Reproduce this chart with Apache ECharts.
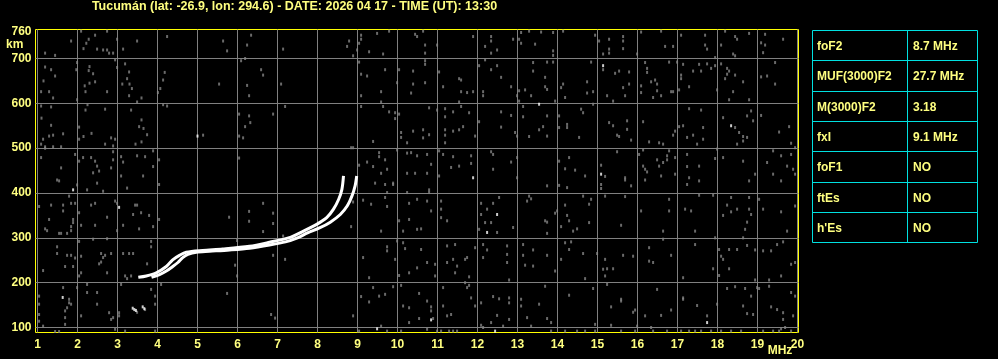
<!DOCTYPE html>
<html><head><meta charset="utf-8">
<script src="https://cdn.jsdelivr.net/npm/echarts@6/dist/echarts.min.js"></script>
<style>html,body{margin:0;padding:0;background:#000;}#c{width:998px;height:359px;}</style>
</head><body><div id="c"></div>
<script>
const titleText = 'Tucumán (lat: -26.9, lon: 294.6) - DATE: 2026 04 17 - TIME (UT): 13:30';
const freqTicks = [1,2,3,4,5,6,7,8,9,10,11,12,13,14,15,16,17,18,19,20];
const heightTicks = [100,200,300,400,500,600,700];
const heightLabels = [100,200,300,400,500,600,700,760];
const xUnit = 'MHz';
const yUnit = 'km';

// Ordinary (O) and extraordinary (X) F-layer traces: [MHz, km]
const traceO = [[3.52,212],[3.72,215],[3.97,222],[4.22,236],[4.38,251],[4.55,261],[4.72,268],[5.13,272],[5.63,275],[6.3,281],[6.8,290],[7.32,301],[7.65,315],[7.98,330],[8.23,345],[8.4,364],[8.53,386],[8.61,408],[8.65,438]];
const traceX = [[3.85,212],[4.05,218],[4.22,226],[4.38,236],[4.51,245],[4.63,256],[4.76,263],[4.97,268],[5.3,270],[5.8,273],[6.3,277],[6.8,284],[7.2,291],[7.5,300],[7.75,311],[8.05,322],[8.32,335],[8.57,352],[8.75,372],[8.86,393],[8.94,416],[8.98,438]];

// Strong isolated echoes (white)
const echoWhite = [[5.0,527],[3.04,368],[1.89,407],[1.63,167],[3.38,143],[3.42,140],[3.46,138],[3.63,146],[3.67,142],[13.54,598],[11.89,434],[12.24,312],[12.49,352],[10.84,117],[9.49,97],[12.44,92],[15.14,684],[15.09,442],[18.34,550],[17.74,111]];

// Weak background echoes (grey)
const noiseGray = [
[2.09,761],[2.74,761],[2.44,752],[1.84,739],[2.28,743],[2.22,734],[2.15,722],[2.49,721],[2.64,719],[2.74,719],[2.79,712],[2.89,712],[3.14,721],[3.49,739],[4.24,749],[1.19,712],[1.44,707],[5.64,739],[5.74,717],[6.24,730],[6.34,752],[7.14,721],[2.99,743],
[1.99,691],[2.94,697],[3.19,688],[6.09,695],[6.19,700],[1.19,681],[1.34,675],[2.30,682],[2.28,673],[2.39,666],[1.97,675],[2.99,680],[3.29,670],[1.44,661],[1.15,650],[3.24,655],[3.12,643],[3.30,643],[4.18,669],[4.14,652],[2.18,639],[2.30,645],[2.44,648],[3.36,633],[4.07,633],[4.01,624],[1.09,626],[1.29,626],[2.74,626],[2.20,626],[1.39,612],[1.99,608],[6.64,663],[6.59,675],[7.09,643],[5.54,643],[6.24,640],[6.29,617],[3.29,617],[3.60,612],[3.49,603],[4.24,594],[4.14,597],
[1.09,594],[1.34,592],[2.20,585],[2.69,587],[3.34,585],[2.25,597],[6.04,576],[6.29,572],[6.89,576],[7.19,593],[1.10,567],[2.04,547],[1.34,551],[3.60,563],[3.54,548],[3.65,544],[6.32,557],[6.19,548],[1.39,529],[1.29,527],[1.64,532],[2.35,533],[2.15,526],[1.14,520],[1.09,509],[1.19,503],[1.39,503],[1.59,503],[2.04,520],[2.94,520],[2.84,523],[2.69,509],[2.89,505],[3.45,509],[3.60,514],[3.74,530],[6.04,527],[6.14,523],[5.14,529],
[1.09,479],[1.19,500],[1.94,486],[2.04,471],[2.14,479],[2.34,479],[2.44,471],[2.49,460],[2.54,449],[2.39,445],[2.89,492],[2.89,474],[3.09,481],[3.14,469],[3.49,483],[3.69,481],[3.89,494],[4.04,474],[1.59,456],[1.49,429],[1.54,427],[1.99,418],[2.24,407],[2.49,422],[2.64,404],[2.84,456],[3.64,438],[3.24,411],[4.04,419],[6.04,478],[3.09,438],[3.89,459],
[1.04,370],[1.34,373],[1.64,373],[1.64,360],[1.79,393],[1.84,377],[1.94,377],[1.89,341],[1.89,334],[1.84,325],[1.84,316],[2.04,356],[2.34,373],[2.44,377],[2.94,382],[2.99,377],[3.14,328],[2.99,316],[3.44,373],[3.49,373],[3.39,352],[3.59,356],[3.79,350],[3.89,325],[4.04,341],[3.54,320],[1.19,320],[1.24,316],[1.29,341],[1.54,310],[1.59,310],[1.74,310],[2.09,328],[2.44,328],[2.74,346],[5.79,346],[6.29,359],[6.29,337],[6.64,377],[6.64,314],[6.89,355],[6.89,332],[7.14,304],
[2.04,292],[2.39,297],[2.74,298],[3.84,292],[3.84,280],[1.49,280],[1.49,265],[1.74,261],[1.84,261],[1.94,255],[2.09,259],[2.59,265],[2.64,256],[2.59,246],[2.69,261],[2.84,265],[3.14,265],[3.29,265],[3.39,265],[1.14,227],[1.69,236],[1.89,236],[2.04,215],[2.09,222],[2.74,222],[2.54,242],[3.19,215],[3.24,209],[3.34,215],[3.74,242],[5.94,239],[5.99,215],[5.99,294],[7.19,252],[6.89,261],
[1.04,170],[1.04,152],[1.04,129],[1.04,114],[1.64,189],[1.69,137],[1.69,122],[1.69,107],[1.79,163],[1.79,155],[1.74,144],[1.84,152],[1.99,189],[2.09,126],[2.24,196],[2.24,178],[2.49,178],[2.49,152],[2.79,133],[2.84,118],[2.89,122],[3.04,133],[3.04,126],[3.09,196],[3.84,185],[3.94,170],[3.94,152],[4.09,196],[3.69,140],[3.49,134],[5.74,176],[6.84,129],[6.94,121],[1.14,103],[1.44,91],[1.54,91],[2.94,96],[3.19,92],[3.94,92],
[9.79,761],[9.49,756],[10.44,754],[10.49,749],[10.64,761],[11.89,749],[12.34,749],[12.34,739],[12.89,743],[13.04,743],[13.09,758],[13.29,761],[13.59,759],[9.09,752],[9.04,734],[9.09,743],[8.99,719],[8.89,706],[8.74,727],[10.69,712],[10.69,730],[10.99,730],[12.19,727],[12.34,712],[12.49,719],[13.09,734],[13.44,732],[9.64,710],[9.29,715],[8.79,739],
[9.04,692],[10.69,695],[10.69,687],[12.04,684],[12.19,697],[12.34,675],[12.49,684],[13.39,691],[13.39,672],[13.69,658],[9.09,665],[9.24,661],[9.69,675],[10.04,675],[10.39,672],[11.04,670],[11.54,655],[11.59,652],[10.69,646],[10.39,643],[9.99,646],[9.59,626],[9.09,617],[10.34,623],[11.14,637],[11.59,626],[11.74,624],[11.89,626],[12.14,626],[12.14,617],[12.59,658],[12.84,637],[13.04,628],[12.99,617],[13.34,617],[13.19,630],[13.69,637],[13.04,605],[11.54,603],[9.59,603],
[9.09,593],[9.64,593],[9.79,581],[9.94,579],[9.94,566],[10.04,576],[10.79,590],[10.99,585],[11.19,588],[11.19,570],[11.39,581],[11.59,593],[11.79,579],[10.09,535],[10.09,524],[10.24,512],[10.39,538],[10.64,541],[10.64,523],[10.79,530],[11.19,541],[11.19,529],[11.19,512],[11.39,538],[11.54,541],[11.64,548],[11.94,527],[12.04,559],[12.59,581],[12.59,547],[12.84,573],[12.94,535],[12.99,527],[13.14,593],[13.14,570],[13.29,526],[13.54,541],[13.64,548],[9.39,515],[8.84,501],[8.89,501],
[9.04,462],[9.24,469],[9.39,459],[9.54,490],[9.54,481],[9.69,474],[9.74,453],[9.59,444],[9.44,422],[9.69,419],[9.89,422],[9.99,496],[10.24,489],[10.34,490],[10.49,483],[10.74,486],[10.84,464],[11.04,494],[11.14,486],[11.39,481],[11.54,460],[11.34,457],[11.84,483],[11.84,466],[12.39,486],[12.39,453],[12.34,492],[12.99,479],[12.84,469],[12.99,434],[11.04,438],[10.74,444],[10.44,444],[10.24,444],[9.89,419],[9.74,401],[10.79,407],[10.79,401],
[9.14,384],[9.34,375],[9.69,390],[9.74,370],[10.24,401],[10.29,377],[10.49,386],[10.74,382],[11.09,382],[11.09,364],[11.09,345],[11.24,338],[10.84,360],[10.29,341],[10.04,338],[10.49,319],[10.14,315],[8.89,380],[8.74,371],[8.84,325],[9.59,315],[12.09,377],[12.24,364],[12.39,377],[12.19,334],[12.54,390],[12.34,334],[12.89,323],[13.29,393],[13.24,382],[13.34,387],[13.69,338],[12.49,312],[12.09,352],[12.04,319],[10.59,320],
[9.74,280],[9.74,271],[9.99,293],[10.14,289],[10.19,276],[10.59,274],[9.14,256],[9.29,211],[9.94,252],[10.04,216],[10.29,222],[10.49,233],[10.74,245],[10.94,241],[10.94,215],[11.24,282],[11.24,245],[11.44,285],[11.39,252],[11.44,222],[11.49,237],[11.69,252],[11.74,256],[11.79,213],[11.94,278],[12.14,256],[12.14,285],[12.24,273],[12.74,282],[12.74,263],[12.74,245],[12.79,206],[13.14,285],[13.14,261],[13.19,239],[13.39,273],[13.39,237],[11.69,200],
[9.39,189],[9.54,170],[9.69,174],[9.89,191],[9.09,169],[9.29,157],[10.09,194],[10.14,148],[10.29,144],[10.54,176],[10.54,120],[10.74,159],[10.84,146],[10.84,137],[10.89,120],[11.14,189],[11.14,148],[11.24,126],[11.34,129],[11.74,189],[11.79,194],[11.84,166],[11.94,148],[12.09,155],[12.39,169],[12.54,164],[12.79,166],[12.79,155],[13.09,163],[13.09,148],[13.54,152],[13.24,122],[13.69,192],[8.89,126],[9.04,92],[9.59,103],[9.74,92],[10.09,92],[10.74,96],[10.99,92],[11.09,92],[11.29,92],[11.39,92],[11.49,92],[12.09,105],[12.14,100],[12.64,103],[12.79,118],[12.49,127],[12.34,111],[10.29,111],[13.34,103],
[13.89,758],[14.14,761],[14.94,752],[15.04,739],[15.29,743],[15.64,749],[15.64,739],[16.09,759],[16.59,761],[16.69,727],[16.89,727],[17.09,752],[17.69,752],[17.69,730],[17.74,721],[18.09,730],[18.19,761],[18.44,749],[18.49,743],[18.79,756],[19.09,735],[19.19,754],[19.19,730],[19.14,713],[19.64,743],[13.89,717],[13.89,707],[15.14,710],[15.29,721],[15.29,712],[15.64,722],[15.99,710],[18.39,710],[18.44,706],[17.94,702],
[13.74,692],[13.89,692],[14.84,692],[15.14,675],[16.24,678],[16.24,669],[16.19,691],[16.79,692],[16.99,692],[17.14,687],[17.39,672],[17.54,687],[17.59,672],[17.74,688],[17.84,678],[17.94,684],[18.09,688],[18.24,678],[18.29,672],[18.44,663],[18.24,665],[18.19,655],[17.09,663],[17.09,655],[17.29,637],[17.04,630],[16.84,626],[16.89,626],[16.34,648],[16.44,652],[16.49,643],[16.49,628],[16.59,617],[16.39,613],[16.09,639],[16.09,624],[14.74,648],[14.74,623],[14.89,626],[14.14,643],[14.09,635],[14.19,613],[13.94,605],[13.74,631],[15.44,667],[15.54,672],[15.79,670],[15.79,643],[15.64,635],[15.69,617],[15.39,605],[15.24,617],[18.64,648],[18.79,608],[19.09,659],[19.24,661],[19.44,691],[19.44,643],[18.29,608],[18.39,626],[17.99,630],
[13.74,572],[14.04,572],[14.24,553],[14.24,546],[14.54,524],[14.59,587],[14.64,579],[14.04,546],[13.74,527],[14.89,598],[15.29,557],[15.39,550],[15.49,529],[15.54,526],[15.74,561],[15.74,542],[15.84,518],[16.14,559],[16.29,514],[16.54,512],[16.64,509],[16.89,529],[16.94,538],[17.04,548],[17.14,550],[17.29,588],[17.59,585],[17.64,546],[17.24,524],[17.39,529],[17.49,509],[17.64,520],[18.14,568],[18.44,546],[18.54,535],[18.64,526],[18.74,524],[18.64,516],[18.74,572],[18.84,583],[18.89,561],[18.49,509],[19.09,573],[19.54,536],[19.79,548],[19.84,511],[19.94,501],
[14.04,471],[14.19,454],[14.29,479],[14.44,451],[14.69,438],[15.09,462],[15.19,437],[15.09,419],[15.09,410],[15.69,434],[15.69,429],[15.84,416],[15.49,492],[16.14,496],[16.04,486],[16.14,460],[16.19,453],[16.24,447],[16.19,429],[16.49,474],[16.54,460],[16.59,438],[16.64,468],[16.74,483],[16.74,474],[16.94,479],[16.94,442],[16.79,494],[17.24,486],[17.24,459],[17.29,434],[17.54,460],[17.54,427],[17.24,419],[17.94,477],[17.99,498],[18.14,479],[18.64,471],[18.79,427],[18.94,442],[19.24,468],[19.39,494],[19.59,483],[19.74,460],[19.84,486],[19.89,453],[19.94,442],[19.39,442],[19.59,427],[14.04,417],[14.24,412],[13.74,416],
[13.94,355],[13.99,360],[14.09,325],[14.19,373],[14.24,350],[14.29,338],[14.39,315],[14.49,320],[14.64,393],[14.79,375],[14.84,386],[14.79,334],[15.19,393],[15.69,392],[15.59,328],[16.09,360],[16.64,315],[16.79,386],[16.79,360],[17.19,364],[17.34,360],[17.44,315],[17.54,395],[17.89,395],[18.14,350],[18.24,373],[18.34,390],[18.34,358],[18.49,364],[18.74,335],[18.79,390],[18.79,364],[18.84,352],[18.69,319],[19.04,386],[19.14,364],[19.59,358],[19.74,315],[19.94,371],[13.74,335],[13.74,310],[17.94,300],[18.64,300],
[14.19,289],[14.34,291],[14.09,252],[13.94,226],[13.74,261],[14.29,274],[14.64,265],[14.99,265],[15.19,252],[15.24,231],[15.14,230],[15.39,231],[15.19,215],[15.24,196],[14.69,209],[15.64,261],[15.89,259],[16.29,278],[16.29,248],[16.39,245],[16.84,261],[16.64,297],[17.14,211],[17.44,285],[17.89,231],[18.04,274],[18.09,259],[18.14,252],[18.29,231],[18.04,216],[18.29,274],[18.49,274],[18.74,283],[18.94,273],[18.94,206],[19.14,271],[19.34,271],[19.49,285],[19.59,215],[19.29,206],[19.84,241],[19.94,245],[19.64,291],
[14.29,172],[14.89,187],[15.59,163],[15.59,159],[15.34,146],[15.89,134],[15.94,139],[16.19,126],[16.49,185],[16.84,139],[16.59,127],[17.14,166],[17.14,163],[17.49,149],[17.74,126],[17.99,152],[18.24,187],[18.44,191],[18.69,187],[18.84,170],[18.64,148],[18.74,131],[18.89,129],[18.99,189],[19.04,187],[19.29,192],[19.34,146],[19.49,140],[19.64,133],[19.64,118],[19.84,178],[19.94,170],[19.89,126],[19.59,97],[19.69,100],[13.84,111],[13.74,120],[14.94,107],[15.34,105],[15.99,103],[16.34,100],[17.44,92],[13.84,92],[14.19,92],[14.49,92],[14.69,92],[14.94,92],[15.59,92],[15.94,92],[16.39,92],[16.74,92],[17.09,92],[17.29,92],[17.59,92],[17.84,92],[18.09,92],[18.34,92],[18.59,92],[19.14,92],[19.39,92],[19.54,92],[19.84,92]
];

const paramNames = ['foF2','MUF(3000)F2','M(3000)F2','fxI','foF1','ftEs',"h'Es"];
const paramValues = ['8.7 MHz','27.7 MHz','3.18','9.1 MHz','NO','NO','NO'];

const TXT = '#ffff80';
const FONT = '"Liberation Sans", Arial, sans-serif';
const CYAN = '#00e0e0';

const chart = echarts.init(document.getElementById('c'), null, {renderer: 'canvas'});

// table graphics
const tbl = {left: 812.5, mid: 907.5, right: 977.5, top: 30.5, rowH: 30.3};
const graphics = [];
const nRows = paramNames.length;
const rowY = i => Math.round(tbl.top + i * tbl.rowH - 0.5) + 0.5;
for (let i = 0; i <= nRows; i++) {
  graphics.push({type: 'line', silent: true, shape: {x1: tbl.left, y1: rowY(i), x2: tbl.right, y2: rowY(i)}, style: {stroke: CYAN, lineWidth: 1}});
}
[tbl.left, tbl.mid, tbl.right].forEach(x => {
  graphics.push({type: 'line', silent: true, shape: {x1: x, y1: rowY(0), x2: x, y2: rowY(nRows)}, style: {stroke: CYAN, lineWidth: 1}});
});
paramNames.forEach((name, i) => {
  const cy = (rowY(i) + rowY(i + 1)) / 2 + 1;
  graphics.push({type: 'text', silent: true, style: {text: name, x: 817, y: cy, fill: TXT, font: 'bold 12px ' + FONT, verticalAlign: 'middle', align: 'left'}});
  graphics.push({type: 'text', silent: true, style: {text: paramValues[i], x: 913, y: cy, fill: TXT, font: 'bold 12px ' + FONT, verticalAlign: 'middle', align: 'left'}});
});
graphics.push({type: 'text', silent: true, style: {text: titleText, x: 294.5, y: 7, fill: TXT, font: 'bold 12.5px ' + FONT, verticalAlign: 'middle', align: 'center'}});
graphics.push({type: 'text', silent: true, style: {text: yUnit, x: 6, y: 45, fill: TXT, font: 'bold 12px ' + FONT, verticalAlign: 'middle', align: 'left'}});
graphics.push({type: 'text', silent: true, style: {text: xUnit, x: 780, y: 351, fill: TXT, font: 'bold 12px ' + FONT, verticalAlign: 'middle', align: 'center'}});

const option = {
  backgroundColor: '#000',
  animation: false,
  grid: {left: 35.5, top: 29.5, width: 763, height: 303, show: true, borderColor: '#ffff00', borderWidth: 1, backgroundColor: '#000'},
  xAxis: {
    type: 'value', min: 0.95, max: 20.025,
    axisLine: {show: false},
    axisTick: {show: false, customValues: freqTicks},
    axisLabel: {customValues: freqTicks, color: TXT, fontWeight: 'bold', fontSize: 12, fontFamily: FONT, margin: 6},
    splitLine: {show: true, lineStyle: {color: '#808080', width: 1}}
  },
  yAxis: {
    type: 'value', min: 88.85, max: 764.7,
    axisLine: {show: false},
    axisTick: {show: false, customValues: heightTicks},
    axisLabel: {customValues: heightLabels, color: TXT, fontWeight: 'bold', fontSize: 12, fontFamily: FONT, margin: 4},
    splitLine: {show: true, lineStyle: {color: '#808080', width: 1}}
  },
  graphic: graphics,
  series: [
    {type: 'scatter', data: noiseGray, symbol: 'rect', symbolSize: [2, 3], itemStyle: {color: '#858585'}, silent: true, z: 2},
    {type: 'scatter', data: echoWhite, symbol: 'rect', symbolSize: [2, 3], itemStyle: {color: '#ffffff'}, silent: true, z: 3},
    {type: 'line', data: traceO, showSymbol: false, smooth: 0.3, lineStyle: {color: '#ffffff', width: 3}, silent: true, z: 4},
    {type: 'line', data: traceX, showSymbol: false, smooth: 0.3, lineStyle: {color: '#ffffff', width: 3}, silent: true, z: 4}
  ]
};
chart.setOption(option);
</script>
</body></html>
